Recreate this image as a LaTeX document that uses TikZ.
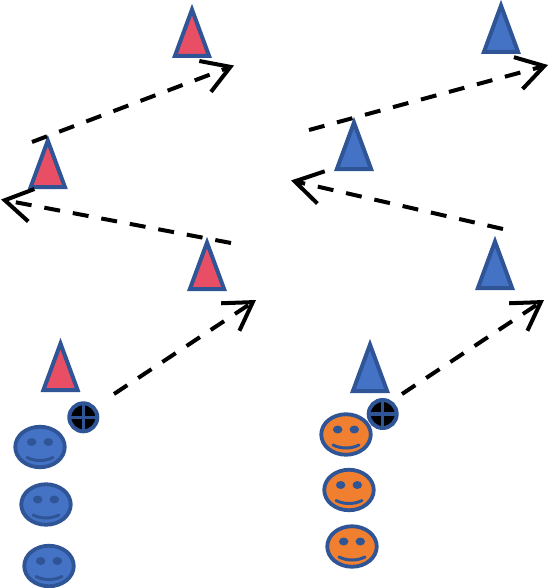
\documentclass[tikz,border=0pt]{standalone}
\usepackage{xcolor}
\usetikzlibrary{arrows.meta,shapes.geometric}

\definecolor{edgeblue}{HTML}{2F5597}
\definecolor{fillblue}{HTML}{4472C4}
\definecolor{fillred}{HTML}{E94F64}
\definecolor{fillorange}{HTML}{F08030}

\newcommand{\smiley}[4]{%
	\node[face,fill=#4] (#1) at (#2,#3) {};
	\node[eye] (#1l) at ([shift={(-8.3,-5)}]#1.center) {};
	\node[eye] (#1r) at ([shift={(8.3,-5)}]#1.center) {};
	\draw[edgeblue,line width=3pt,line cap=round]
	([shift={(-13,10.5)}]#1.center) .. controls ([shift={(-5,14.5)}]#1.center) and ([shift={(5,14.5)}]#1.center) .. ([shift={(13,10.5)}]#1.center);
}

\newcommand{\crosshair}[3]{%
	\node[hair] (#1) at (#2,#3) {};
	\draw[edgeblue,line width=3.4pt] (#1.north) -- (#1.south);
	\draw[edgeblue,line width=3.4pt] (#1.west) -- (#1.east);
}

\begin{document}
\begin{tikzpicture}[
		x=1pt,
		y=-1pt,
		cone/.style={
			draw=edgeblue,
			line width=4pt,
			isosceles triangle,
			shape border rotate=90,
			isosceles triangle stretches,
			minimum width=34.2pt,
			minimum height=46.4pt,
			inner sep=0pt,
			outer sep=0pt,
			anchor=apex
		},
		face/.style={
			draw=edgeblue,
			line width=3.8pt,
			ellipse,
			minimum width=49.5pt,
			minimum height=40.5pt,
			inner sep=0pt
		},
		eye/.style={
			fill=edgeblue,
			ellipse,
			minimum width=9.4pt,
			minimum height=8pt,
			inner sep=0pt
		},
		hair/.style={
			draw=edgeblue,
			fill=black,
			line width=4pt,
			circle,
			minimum size=28pt,
			inner sep=0pt,
			outer sep=0pt
		},
		flow/.style={
			line width=4pt,
			dash pattern=on 16pt off 13pt,
			-{Straight Barb[length=27pt,width=33pt]}
		}
		]
		
		\useasboundingbox (0,0) rectangle (550,588);
		
		% left column
		\node[cone,fill=fillred] (redfour) at (60.5,343.6) {};
		\node[cone,fill=fillred] (redthree) at (207,242.6) {};
		\node[cone,fill=fillred] (redtwo) at (47.8,140.6) {};
		\node[cone,fill=fillred] (redone) at (192,9.6) {};
		
		\smiley{bluea}{40}{447}{fillblue}
		\smiley{blueb}{46}{504.5}{fillblue}
		\smiley{bluec}{49}{566}{fillblue}
		\crosshair{lefthair}{83.3}{417.3}
		
		% right column
		\node[cone,fill=fillblue] (bluefour) at (370,344.6) {};
		\node[cone,fill=fillblue] (bluethree) at (495,241.6) {};
		\node[cone,fill=fillblue] (bluetwo) at (354,122.6) {};
		\node[cone,fill=fillblue] (blueone) at (501,5.6) {};
		
		\smiley{orangea}{346}{434.5}{fillorange}
		\smiley{orangeb}{349}{490}{fillorange}
		\smiley{orangec}{352}{546.5}{fillorange}
		\crosshair{righthair}{382.7}{414}
		
		% paths
		\coordinate (la) at (114,394);
		\coordinate (lb) at (256,300);
		\coordinate (lc) at (231,243);
		\coordinate (ld) at (1,199.5);
		\coordinate (le) at (32,142);
		\coordinate (lf) at (234,65.5);
		
		\coordinate (ra) at (402,394);
		\coordinate (rb) at (544,300);
		\coordinate (rc) at (503,229);
		\coordinate (rd) at (291,180.5);
		\coordinate (re) at (309,130);
		\coordinate (rf) at (548,65);
		
		\draw[flow] (la)--(lb);
		\draw[flow] (lc)--(ld);
		\draw[flow] (le)--(lf);
		\draw[flow] (ra)--(rb);
		\draw[flow] (rc)--(rd);
		\draw[flow] (re)--(rf);
		
	\end{tikzpicture}
\end{document}
